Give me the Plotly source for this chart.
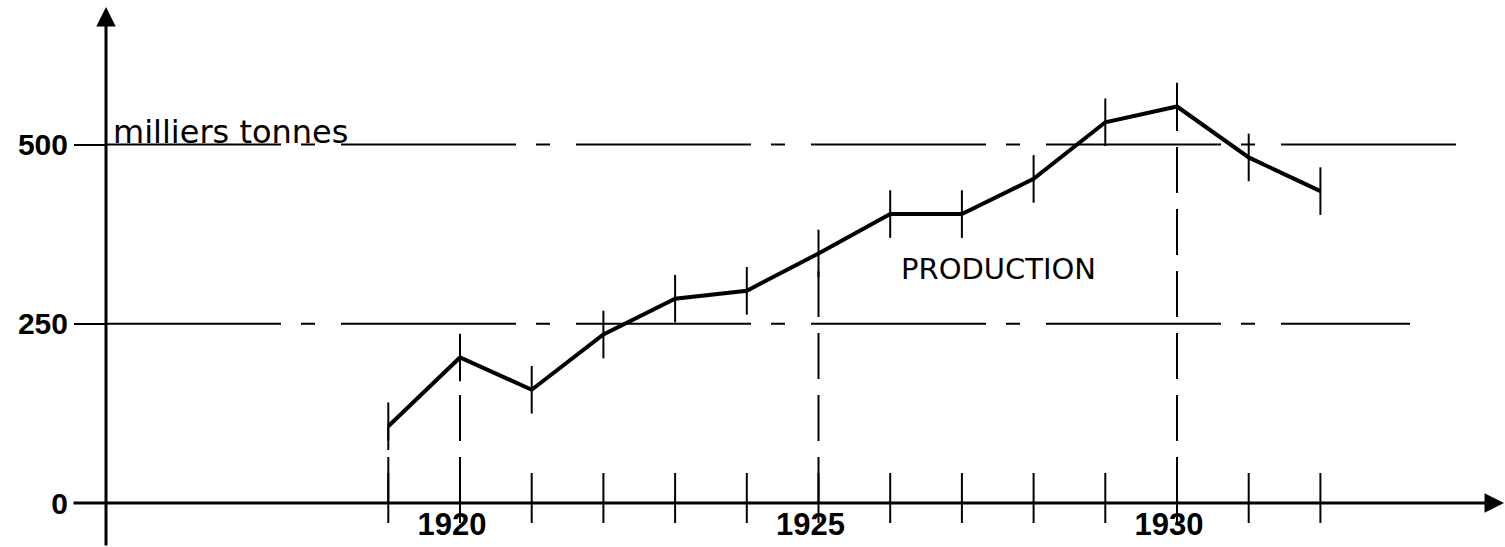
import plotly.graph_objects as go

# ---- data ----
years = [1919, 1920, 1921, 1922, 1923, 1924, 1925, 1926, 1927, 1928, 1929, 1930, 1931, 1932]
production = [107, 203, 158, 235, 285, 296, 348, 403, 403, 452, 531, 553, 482, 435]
label_years = [1920, 1925, 1930]
drop_years = [1919, 1920, 1925, 1930]
y_ticks = [0, 250, 500]
y_tick_text = ["0", "250", "500"]
unit_label = "milliers tonnes"
series_label = "PRODUCTION"

# ---- pixel calibration of the canvas ----
W, H = 1505, 547
PX_PER_YEAR = 71.7
X0 = 1920 - 460 / PX_PER_YEAR
PX_PER_UNIT = 0.717
AXIS_PIX_Y = 503
Y0 = -(H - AXIS_PIX_Y) / PX_PER_UNIT
Y1 = AXIS_PIX_Y / PX_PER_UNIT
YAXIS_PIX_X = 106


def px2x(p):
    return X0 + p / PX_PER_YEAR


def py2y(p):
    return (AXIS_PIX_Y - p) / PX_PER_UNIT


yaxis_x = px2x(YAXIS_PIX_X)
fig = go.Figure()

# grid lines (dash-dot) at 250 and 500
grid_end = {250: px2x(1410), 500: px2x(1462)}
for v in y_ticks[1:]:
    fig.add_shape(type="line", xref="x", yref="y", x0=yaxis_x, x1=grid_end[v], y0=v, y1=v,
                  line=dict(color="black", width=2, dash="175px,20px,14px,26px"), layer="below")

# year ticks crossing the x axis
tx, ty = [], []
for yr in years:
    tx += [yr, yr, None]
    ty += [30 / PX_PER_UNIT, -20 / PX_PER_UNIT, None]
fig.add_trace(go.Scatter(x=tx, y=ty, mode="lines", line=dict(color="black", width=2),
                         hoverinfo="skip", showlegend=False))

# dashed drop lines
for yr in drop_years:
    v = production[years.index(yr)]
    fig.add_trace(go.Scatter(x=[yr, yr], y=[0, v], mode="lines",
                             line=dict(color="black", width=2, dash="46px,16px"),
                             hoverinfo="skip", showlegend=False))

# production line
fig.add_trace(go.Scatter(x=years, y=production, mode="lines+markers",
                         line=dict(color="black", width=4),
                         marker=dict(symbol="line-ns", size=34, line=dict(color="black", width=2)),
                         showlegend=False, name=series_label))

# axes with arrows
fig.add_annotation(x=yaxis_x, y=py2y(7), ax=yaxis_x, ay=Y0, xref="x", yref="y", axref="x", ayref="y",
                   text="", showarrow=True, arrowhead=2, arrowsize=1.3, arrowwidth=3, arrowcolor="black",
                   standoff=0)
fig.add_annotation(x=px2x(1504), y=0, ax=px2x(72), ay=0, xref="x", yref="y", axref="x", ayref="y",
                   text="", showarrow=True, arrowhead=2, arrowsize=1.3, arrowwidth=3, arrowcolor="black",
                   standoff=0)

# texts
fig.add_annotation(x=px2x(111), y=y_ticks[2], xref="x", yref="y", text=unit_label, showarrow=False,
                   xanchor="left", yanchor="bottom", yshift=-8,
                   font=dict(family="DejaVu Sans", size=32, color="black"))
fig.add_annotation(x=px2x(998), y=py2y(269), xref="x", yref="y", text=series_label, showarrow=False,
                   xanchor="center", yanchor="middle",
                   font=dict(family="DejaVu Sans", size=29, color="black"))

fig.update_layout(
    width=W, height=H, margin=dict(l=0, r=0, t=0, b=0, autoexpand=False),
    paper_bgcolor="white", plot_bgcolor="white",
    xaxis=dict(range=[X0, X0 + W / PX_PER_YEAR], tickvals=label_years,
               ticktext=[str(y) for y in label_years], ticks="", showgrid=False, zeroline=False,
               showline=False, anchor="free", position=(H - AXIS_PIX_Y) / H, automargin=False,
               ticklabelshift=-8,
               tickfont=dict(family="Liberation Sans", size=31, color="black", weight="bold")),
    yaxis=dict(range=[Y0, Y1], tickvals=y_ticks, ticktext=y_tick_text, ticks="outside", ticklen=32,
               tickwidth=2, tickcolor="black", showgrid=False, zeroline=False, showline=False,
               anchor="free", position=YAXIS_PIX_X / W, automargin=False,
               tickfont=dict(family="Liberation Sans", size=30, color="black", weight="bold")),
)

fig.write_html("out.html", config={"displayModeBar": False},
               post_script="document.body.style.margin='0';document.body.style.overflow='hidden';")
